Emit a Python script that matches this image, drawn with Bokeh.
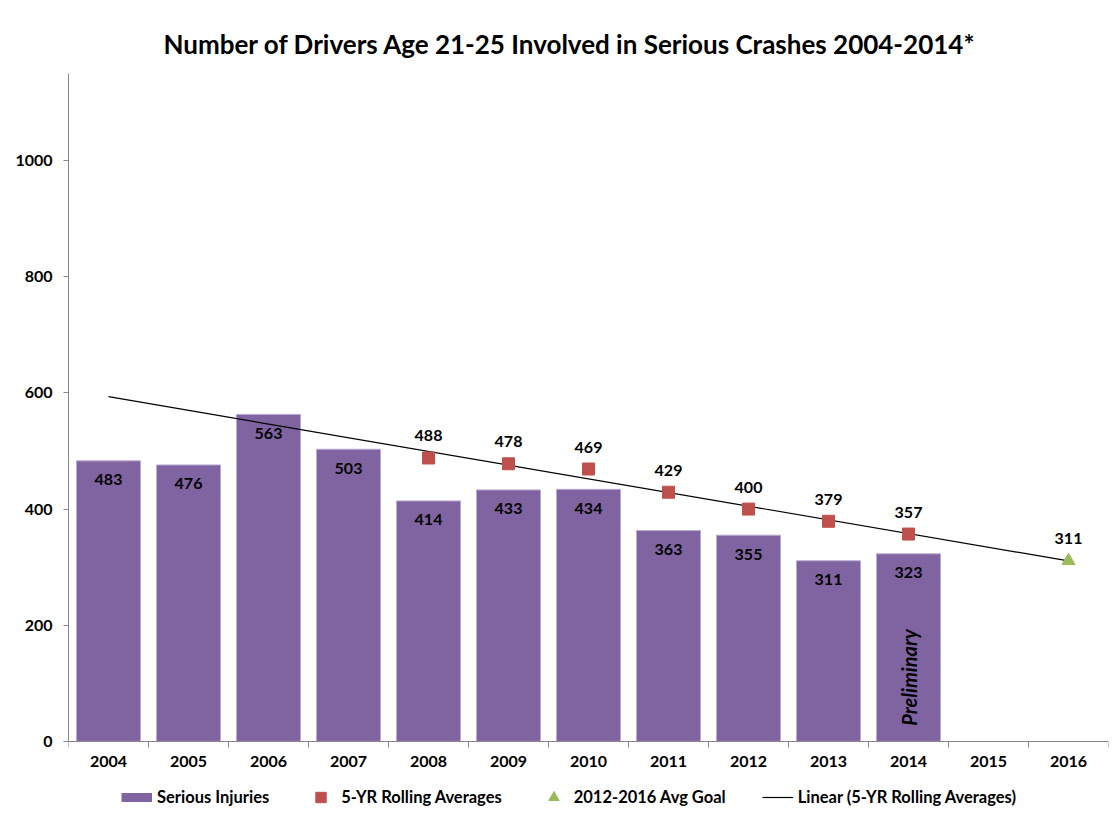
import numpy as np
from bokeh.plotting import figure
from bokeh.models import (ColumnDataSource, FixedTicker, Legend, LegendItem, Range1d, Label)
from bokeh.core.properties import value
from bokeh.embed import file_html
from bokeh.resources import INLINE

years = ["2004", "2005", "2006", "2007", "2008", "2009", "2010", "2011",
         "2012", "2013", "2014", "2015", "2016"]
injury_years = ["2004", "2005", "2006", "2007", "2008", "2009", "2010",
                "2011", "2012", "2013", "2014"]
serious_injuries = [483, 476, 563, 503, 414, 433, 434, 363, 355, 311, 323]
avg_years = ["2008", "2009", "2010", "2011", "2012", "2013", "2014"]
rolling_avg = [488, 478, 469, 429, 400, 379, 357]
goal_years = ["2016"]
goal = [311]
y_ticks = [0, 200, 400, 600, 800, 1000]

FONT = "Lato"
PURPLE = "#8064A2"
RED = "#C0504D"
GREEN = "#9BBB59"
GRAY = "#868686"

idx = {y: i for i, y in enumerate(years)}
xi_inj = [idx[y] for y in injury_years]
xi_avg = [idx[y] for y in avg_years]
xi_goal = [idx[y] for y in goal_years]

p = figure(width=1110, height=819, output_backend="svg", toolbar_location=None,
           x_range=Range1d(-0.5, len(years) - 0.5), y_range=Range1d(-134.5, 1150),
           min_border_left=68, min_border_right=2, min_border_top=73,
           min_border_bottom=0)
p.outline_line_color = None
p.grid.grid_line_color = None
p.background_fill_color = "white"

p.title.text = "Number of Drivers Age 21-25 Involved in Serious Crashes 2004-2014*"
p.title.align = "left"
p.title.text_font = FONT
p.title.text_font_size = "26px"
p.title.text_font_style = "bold"
p.title.text_color = "black"
p.title.offset = 95
p.title.standoff = 28

bar_src = ColumnDataSource(dict(x=xi_inj, top=serious_injuries,
                                label=[str(v) for v in serious_injuries]))
bars = p.vbar(x="x", top="top", bottom=0, width=0.8, source=bar_src,
              fill_color=PURPLE, line_color="#b9aacf", line_width=1)
p.text(x="x", y="top", text="label", source=bar_src, text_align="center",
       text_baseline="middle", y_offset=19, text_font=value(FONT),
       text_font_size="16px", text_font_style="bold", text_color="black")

# invisible renderer (NaN data) used only for the legend swatch of the bars
bar_key = p.line(x=[float("nan")], y=[float("nan")], line_color=PURPLE,
                 line_width=9, line_cap="butt")

# linear trend of rolling averages
coef = np.polyfit(xi_avg, rolling_avg, 1)
tx = [0, len(years) - 1]
ty = [float(np.polyval(coef, t)) for t in tx]
trend = p.line(tx, ty, line_color="black", line_width=1.2)

avg_src = ColumnDataSource(dict(x=xi_avg, y=rolling_avg,
                                label=[str(v) for v in rolling_avg]))
sq = p.scatter(x="x", y="y", source=avg_src, marker="square", size=12,
               fill_color=RED, line_color=RED)
p.text(x="x", y="y", text="label", source=avg_src, text_align="center",
       text_baseline="middle", y_offset=-22, text_font=value(FONT),
       text_font_size="16px", text_font_style="bold", text_color="black")

goal_src = ColumnDataSource(dict(x=xi_goal, y=goal, label=[str(v) for v in goal]))
tri = p.scatter(x="x", y="y", source=goal_src, marker="triangle", size=13,
                fill_color=GREEN, line_color=GREEN)
p.text(x="x", y="y", text="label", source=goal_src, text_align="center",
       text_baseline="middle", y_offset=-22, text_font=value(FONT),
       text_font_size="16px", text_font_style="bold", text_color="black")

p.add_layout(Label(x=idx["2014"], y=110, text="Preliminary", angle=np.pi / 2,
                   text_align="center", text_baseline="middle",
                   text_font=FONT, text_font_size="20px",
                   text_font_style="bold italic", text_color="black"))

# axes
xa = p.xaxis[0]
xa.fixed_location = 0
xa.ticker = FixedTicker(ticks=list(range(len(years))),
                        minor_ticks=[i - 0.5 for i in range(len(years) + 1)])
xa.major_label_overrides = {i: y for i, y in enumerate(years)}
xa.major_tick_out = 0
xa.major_tick_in = 0
xa.minor_tick_out = 6
xa.minor_tick_in = 0
xa.minor_tick_line_color = GRAY
xa.axis_line_color = GRAY
xa.major_label_standoff = 9
xa.major_label_text_font = FONT
xa.major_label_text_font_size = "16px"
xa.major_label_text_font_style = "bold"
xa.major_label_text_color = "black"

ya = p.yaxis[0]
ya.bounds = (0, 1150)
ya.ticker = FixedTicker(ticks=y_ticks, minor_ticks=[])
ya.axis_line_color = GRAY
ya.major_tick_line_color = GRAY
ya.major_tick_out = 5
ya.major_tick_in = 0
ya.minor_tick_line_color = None
ya.major_label_standoff = 11
ya.major_label_text_font = FONT
ya.major_label_text_font_size = "16px"
ya.major_label_text_font_style = "bold"
ya.major_label_text_color = "black"

legend = Legend(items=[
    LegendItem(label="Serious Injuries", renderers=[bar_key]),
    LegendItem(label="5-YR Rolling Averages", renderers=[sq]),
    LegendItem(label="2012-2016 Avg Goal", renderers=[tri]),
    LegendItem(label="Linear (5-YR Rolling Averages)", renderers=[trend]),
], orientation="horizontal", location=(53, 9))
legend.border_line_color = None
legend.background_fill_alpha = 0
legend.label_text_font = FONT
legend.label_text_font_size = "16.5px"
legend.label_text_font_style = "bold"
legend.label_text_color = "black"
legend.glyph_width = 31
legend.glyph_height = 26
legend.spacing = 36
legend.label_standoff = 5
legend.padding = 4
legend.margin = 0
p.add_layout(legend, "center")

open("out.html", "w").write(file_html(p, INLINE))
